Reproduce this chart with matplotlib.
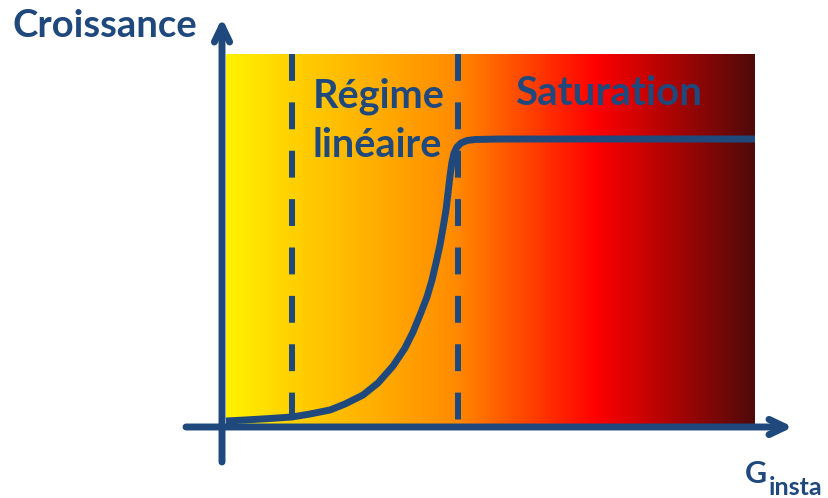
import numpy as np
import matplotlib.pyplot as plt
from matplotlib.colors import LinearSegmentedColormap

# Schematic: growth vs G_insta (linear regime then saturation)
# coordinates are in "pixel-like" units, origin at the axis crossing

BLUE = "#1F497D"

# curve (x, y above the horizontal axis)
curve_x = [4, 23, 48, 70, 88, 108, 123, 141, 156, 171, 183, 191, 198, 205, 210,
           214, 218, 221, 224, 226, 228, 230, 232, 235, 239, 245, 253, 278, 533]
curve_y = [6, 7, 8.5, 10, 13, 17, 23, 32, 44, 61, 79, 95, 112, 130, 147,
           164, 182, 199, 217, 234, 251, 265, 274, 280, 284, 286.5, 287.5, 288, 288]

# regime boundaries (dashed lines)
bound_x = [70, 236]

# gradient band behind the curve
band_x = (4, 533)
band_top = 373
grad_stops = [(0.0, "#FFF200"), (0.12, "#FFD200"), (0.43, "#FF8C00"),
              (0.70, "#FF0000"), (0.85, "#A80404"), (1.0, "#4F0A0A")]

fig = plt.figure(figsize=(8.29, 4.98), dpi=100)
ax = fig.add_axes([0, 0, 1, 1])
ax.set_xlim(-222, 607)
ax.set_ylim(-71, 427)
ax.axis("off")

cmap = LinearSegmentedColormap.from_list("heat", grad_stops)
ax.imshow(np.linspace(0, 1, 512)[None, :], cmap=cmap, aspect="auto",
          extent=(band_x[0], band_x[1], 0, band_top), zorder=0, interpolation="bilinear")

# dashed regime boundaries
for bx in bound_x:
    ax.plot([bx, bx], [band_top, 0], color=BLUE, lw=4.3,
            linestyle=(0, (4.5, 3.6)), dash_capstyle="butt", zorder=2)

# growth curve
ax.plot(curve_x, curve_y, color=BLUE, lw=5.0, solid_capstyle="butt",
        solid_joinstyle="round", zorder=3)

# axes arrows
ax.annotate("", xy=(0, 409), xytext=(0, -35),
            arrowprops=dict(arrowstyle="->,head_length=1.15,head_width=0.55",
                            color=BLUE, lw=5, shrinkA=0, shrinkB=0,
                            capstyle="round", joinstyle="round"), zorder=4)
ax.annotate("", xy=(571, 0), xytext=(-36, 0),
            arrowprops=dict(arrowstyle="->,head_length=1.15,head_width=0.55",
                            color=BLUE, lw=5, shrinkA=0, shrinkB=0,
                            capstyle="round", joinstyle="round"), zorder=4)

font = dict(family="Lato", weight="bold", color=BLUE)
ax.text(-210, 390, "Croissance", fontsize=27.5, va="baseline", ha="left", **font)
ax.text(91, 320, "Régime", fontsize=28.5, va="baseline", ha="left", zorder=5, **font)
ax.text(91, 270, "linéaire", fontsize=28.5, va="baseline", ha="left", zorder=5, **font)
ax.text(293, 322, "Saturation", fontsize=29, va="baseline", ha="left", zorder=5, **font)
ax.text(523, -56, "G", fontsize=22, va="baseline", ha="left", **font)
ax.text(547, -68, "insta", fontsize=18, va="baseline", ha="left", **font)

fig.savefig("out.png", dpi=100)
